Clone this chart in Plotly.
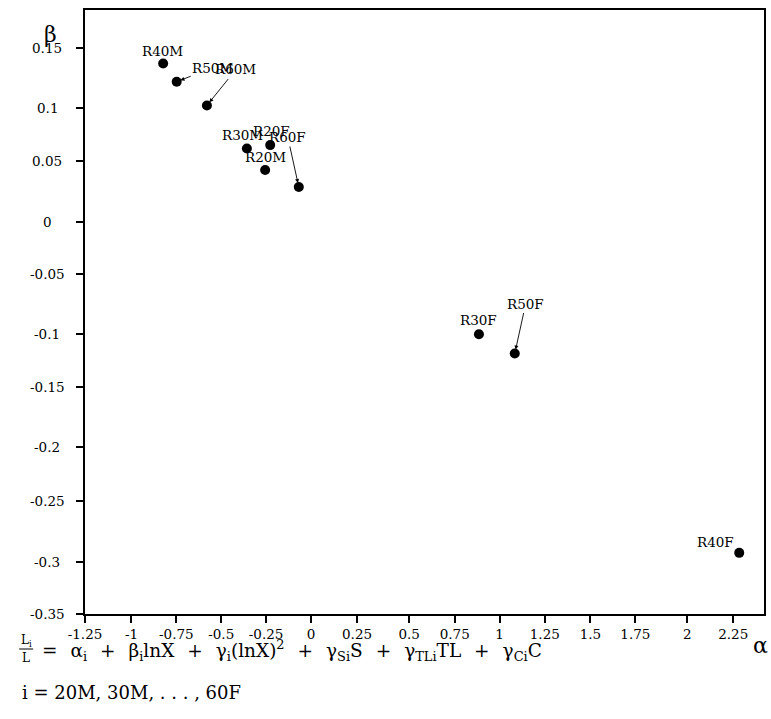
import plotly.graph_objects as go

# ---- data ----
labels = ["R20M", "R30M", "R40M", "R50M", "R60M", "R20F", "R30F", "R40F", "R50F", "R60F"]
alpha = [-0.254, -0.355, -0.818, -0.743, -0.576, -0.226, 0.928, 2.367, 1.126, -0.068]
beta = [0.042, 0.061, 0.136, 0.120, 0.099, 0.064, -0.103, -0.296, -0.120, 0.027]

x_tick_labels = ["-1.25", "-1", "-0.75", "-0.5", "-0.25", "0", "0.25", "0.5", "0.75",
                 "1", "1.25", "1.5", "1.75", "2", "2.25"]
x_tick_pos = [-1.25, -0.993, -0.745, -0.497, -0.249, 0.0, 0.254, 0.542, 0.794,
              1.042, 1.292, 1.544, 1.793, 2.080, 2.334]
y_tick_labels = ["0.15", "0.1", "0.05", "0", "-0.05", "-0.1", "-0.15", "-0.2", "-0.25", "-0.3", "-0.35"]
y_tick_pos = [0.15, 0.0965, 0.05, -0.0036, -0.05, -0.103, -0.15, -0.2023, -0.25, -0.3038, -0.35]

# label placement (pixel offsets of label centre from its point); arrow flag
label_style = {
    "R20M": (0, -13, False),
    "R30M": (-4, -14, False),
    "R40M": (-1, -13, False),
    "R50M": (36, -14, True),
    "R60M": (29, -36, True),
    "R20F": (1, -14, False),
    "R30F": (0, -14, False),
    "R40F": (-24, -11, False),
    "R50F": (11, -50, True),
    "R60F": (-11, -50, True),
}

SERIF = "DejaVu Serif"
LBL = 13.5
fig = go.Figure()
fig.add_trace(go.Scatter(
    x=alpha, y=beta, mode="markers",
    marker=dict(color="black", size=10),
    showlegend=False, hoverinfo="skip",
))

ann = []
for lab, a, b in zip(labels, alpha, beta):
    dx, dy, arrow = label_style[lab]
    if arrow:
        ann.append(dict(x=a, y=b, xref="x", yref="y", text=lab, showarrow=True,
                        ax=dx, ay=dy, arrowhead=2, arrowsize=0.9, arrowwidth=0.9,
                        arrowcolor="black", standoff=4, startstandoff=0,
                        font=dict(family=SERIF, size=LBL, color="black")))
    else:
        ann.append(dict(x=a, y=b, xref="x", yref="y", text=lab, showarrow=False,
                        xshift=dx, yshift=-dy,
                        font=dict(family=SERIF, size=LBL, color="black")))

# y tick labels centred in the left margin
for t, p in zip(y_tick_labels, y_tick_pos):
    ann.append(dict(x=0, y=p, xref="paper", yref="y", text=t, showarrow=False,
                    xanchor="center", yanchor="middle", xshift=-38,
                    font=dict(family=SERIF, size=LBL, color="black")))

# axis titles
ann.append(dict(x=0, y=1, xref="paper", yref="paper", text="β", showarrow=False,
                xanchor="center", yanchor="middle", xshift=-35, yshift=-24,
                font=dict(family="DejaVu Serif", size=22, color="black")))
ann.append(dict(x=1, y=0, xref="paper", yref="paper", text="α", showarrow=False,
                xanchor="center", yanchor="middle", xshift=-4, yshift=-31,
                font=dict(family="DejaVu Serif", size=22, color="black")))

# formula below the chart
FF = "DejaVu Serif"
G = "\u2002\u2009"  # wide math-like spacing around operators
formula = ("=" + G + "α<sub>i</sub>" + G + "+" + G + "β<sub>i</sub>lnX" + G + "+" + G +
           "γ<sub>i</sub>(lnX)<sup>2</sup>" + G + "+" + G + "γ<sub>Si</sub>S" + G + "+" + G +
           "γ<sub>TLi</sub>TL" + G + "+" + G + "γ<sub>Ci</sub>C")
ann.append(dict(x=0, y=0, xref="paper", yref="paper", text="L<sub>i</sub>", showarrow=False,
                xanchor="center", yanchor="middle", xshift=-59, yshift=-27,
                font=dict(family=FF, size=12, color="black")))
ann.append(dict(x=0, y=0, xref="paper", yref="paper", text="L", showarrow=False,
                xanchor="center", yanchor="middle", xshift=-59, yshift=-44,
                font=dict(family=FF, size=12, color="black")))
ann.append(dict(x=0, y=0, xref="paper", yref="paper", text=formula,
                showarrow=False, xanchor="left", yanchor="middle", xshift=-45, yshift=-36,
                font=dict(family=FF, size=18.5, color="black")))
ann.append(dict(x=0, y=0, xref="paper", yref="paper",
                text="i = 20M, 30M, . . . , 60F",
                showarrow=False, xanchor="left", yanchor="middle", xshift=-65, yshift=-78,
                font=dict(family=FF, size=18, color="black")))

fig.add_shape(type="line", xref="paper", yref="paper",
              x0=(19 - 85) / 681, x1=(33 - 85) / 681,
              y0=-(649 - 614) / 604, y1=-(649 - 614) / 604,
              line=dict(color="black", width=1))

fig.update_layout(
    width=771, height=719,
    margin=dict(l=85, r=5, t=10, b=105),
    paper_bgcolor="white", plot_bgcolor="white",
    annotations=ann,
    xaxis=dict(range=[-1.25, 2.504], tickvals=x_tick_pos, ticktext=x_tick_labels,
               showgrid=False, zeroline=False, showline=True, mirror=True,
               linecolor="black", linewidth=2, ticks="outside", ticklen=7,
               tickwidth=2, tickcolor="black",
               tickfont=dict(family=SERIF, size=LBL, color="black")),
    yaxis=dict(range=[-0.35, 0.1833], tickvals=y_tick_pos, showticklabels=False,
               showgrid=False, zeroline=False, showline=True, mirror=True,
               linecolor="black", linewidth=2, ticks="outside", ticklen=7,
               tickwidth=2, tickcolor="black"),
)

fig.write_html("out.html")
